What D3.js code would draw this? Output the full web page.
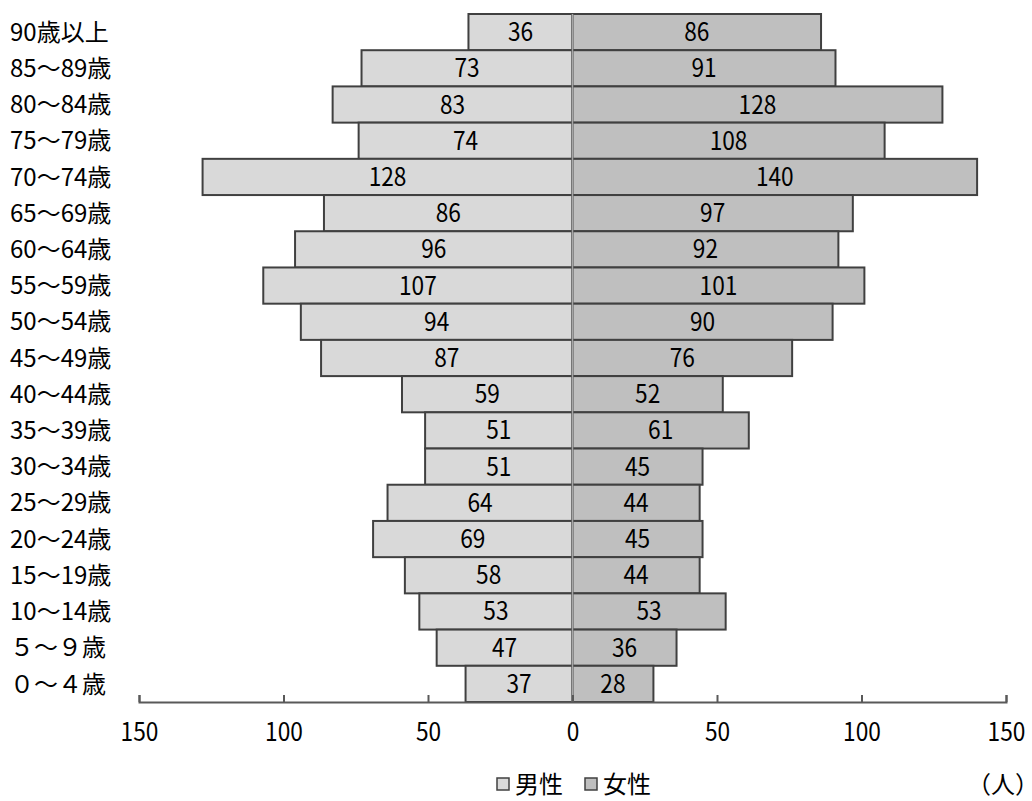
<!DOCTYPE html>
<html lang="ja">
<head>
<meta charset="utf-8">
<script src="https://cdn.jsdelivr.net/npm/d3@7"></script>
<style>
  html, body { margin: 0; padding: 0; background: #fff; }
  svg { display: block; }
  text { font-family: "Noto Sans CJK JP", "Noto Sans", sans-serif; fill: #000; }
</style>
</head>
<body>
<svg id="chart" width="1032" height="801"></svg>
<script>
// Age groups, oldest at the top
const ageGroups = ["90歳以上", "85～89歳", "80～84歳", "75～79歳", "70～74歳", "65～69歳",
  "60～64歳", "55～59歳", "50～54歳", "45～49歳", "40～44歳", "35～39歳", "30～34歳",
  "25～29歳", "20～24歳", "15～19歳", "10～14歳", "５～９歳", "０～４歳"];
const male   = [36, 73, 83, 74, 128, 86, 96, 107, 94, 87, 59, 51, 51, 64, 69, 58, 53, 47, 37];
const female = [86, 91, 128, 108, 140, 97, 92, 101, 90, 76, 52, 61, 45, 44, 45, 44, 53, 36, 28];
const tickValues = [-150, -100, -50, 0, 50, 100, 150];
const seriesNames = ["男性", "女性"];
const unitLabel = "（人）";

const colors = { male: "#d9d9d9", female: "#bfbfbf", edge: "#404040" };

// Numbers are set in a narrow figure style
const numSize = 25;
const digitWidth = 12.6;
const narrow = sel => sel
  .style("font-size", numSize + "px")
  .attr("lengthAdjust", "spacingAndGlyphs")
  .attr("textLength", function () { return this.textContent.length * digitWidth; });

const svg = d3.select("#chart");

const x = d3.scaleLinear().domain([-150, 150]).range([139, 1006]);
const y = d3.scaleBand().domain(ageGroups).range([14, 702]).padding(0);

const rows = ageGroups.map((g, i) => ({ group: g, m: male[i], f: female[i] }));

// Male bars (left)
svg.append("g").selectAll("rect")
  .data(rows).join("rect")
  .attr("x", d => x(-d.m))
  .attr("y", d => y(d.group))
  .attr("width", d => x(0) - x(-d.m))
  .attr("height", y.bandwidth())
  .attr("fill", colors.male)
  .attr("stroke", colors.edge)
  .attr("stroke-width", 2);

// Female bars (right)
svg.append("g").selectAll("rect")
  .data(rows).join("rect")
  .attr("x", x(0))
  .attr("y", d => y(d.group))
  .attr("width", d => x(d.f) - x(0))
  .attr("height", y.bandwidth())
  .attr("fill", colors.female)
  .attr("stroke", colors.edge)
  .attr("stroke-width", 2);

// Centre line
svg.append("line")
  .attr("x1", x(0)).attr("x2", x(0))
  .attr("y1", y.range()[0]).attr("y2", y.range()[1])
  .attr("stroke", "#a6a6a6").attr("stroke-width", 1.5);

// Value labels
svg.append("g").selectAll("text")
  .data(rows).join("text")
  .attr("x", d => (x(-d.m) + x(0)) / 2)
  .attr("y", d => y(d.group) + y.bandwidth() / 2)
  .attr("dy", "0.36em")
  .attr("text-anchor", "middle")
  .text(d => d.m)
  .call(narrow);

svg.append("g").selectAll("text")
  .data(rows).join("text")
  .attr("x", d => (x(d.f) + x(0)) / 2)
  .attr("y", d => y(d.group) + y.bandwidth() / 2)
  .attr("dy", "0.36em")
  .attr("text-anchor", "middle")
  .text(d => d.f)
  .call(narrow);

// Category labels
svg.append("g").selectAll("text")
  .data(ageGroups).join("text")
  .attr("x", 10)
  .attr("y", d => y(d) + y.bandwidth() / 2)
  .attr("dy", "0.36em")
  .style("font-size", "24px")
  .text(d => d);

// Bottom axis with upward ticks
const axis = d3.axisBottom(x)
  .tickValues(tickValues)
  .tickSize(-7)
  .tickPadding(0)
  .tickFormat(d => Math.abs(d));

const gAxis = svg.append("g")
  .attr("transform", `translate(0,${y.range()[1]})`)
  .call(axis);
gAxis.select(".domain").attr("stroke", "#595959").attr("stroke-width", 2);
gAxis.selectAll(".tick line").attr("stroke", "#595959").attr("stroke-width", 2);
gAxis.selectAll(".tick text")
  .attr("y", 30)
  .attr("dy", "0.36em")
  .attr("fill", "#000")
  .style("font-family", "'Noto Sans CJK JP', 'Noto Sans', sans-serif")
  .call(narrow);

// Legend
const legendY = 784;
const legend = svg.append("g").attr("transform", `translate(0,${legendY})`);
const legendItems = [
  { name: seriesNames[0], fill: colors.male, x: 497 },
  { name: seriesNames[1], fill: colors.female, x: 585 }
];
legendItems.forEach(item => {
  legend.append("rect")
    .attr("x", item.x).attr("y", -6)
    .attr("width", 12).attr("height", 12)
    .attr("fill", item.fill)
    .attr("stroke", colors.edge).attr("stroke-width", 1.5);
  legend.append("text")
    .attr("x", item.x + 18).attr("y", 0)
    .attr("dy", "0.36em")
    .style("font-size", "24px")
    .text(item.name);
});

svg.append("text")
  .attr("x", 967).attr("y", legendY)
  .attr("dy", "0.36em")
  .style("font-size", "24px")
  .text(unitLabel);
</script>
</body>
</html>
